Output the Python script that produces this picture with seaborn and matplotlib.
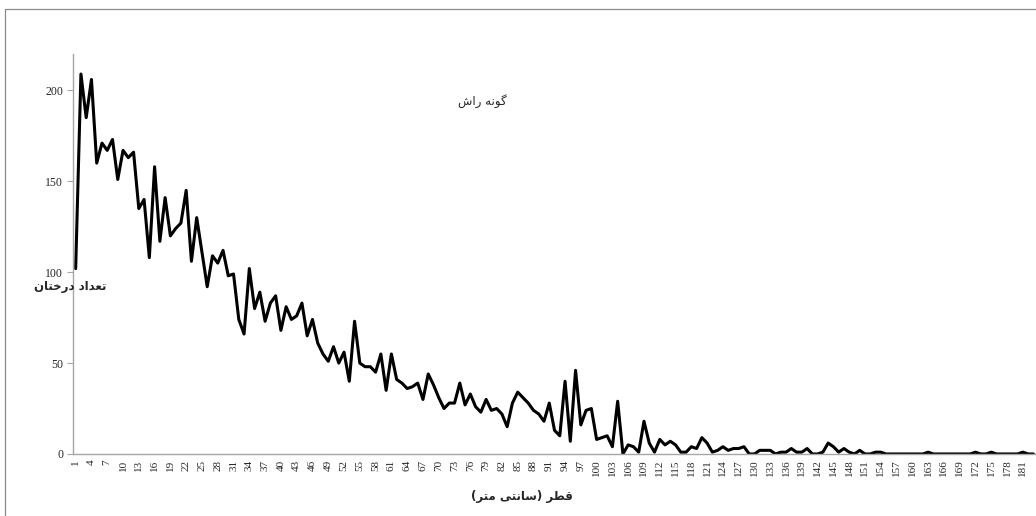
import numpy as np
import pandas as pd
import matplotlib
matplotlib.use('Agg')
import matplotlib.pyplot as plt
from matplotlib.lines import Line2D
import seaborn as sns

# DATA  (tree counts per diameter class, 1..183 cm)

diameters = list(range(1, 184))
tree_counts = [
    102, 209, 185, 206, 160, 171, 167, 173, 151, 167,
    163, 166, 135, 140, 108, 158, 117, 141, 120, 124,
    127, 145, 106, 130, 111, 92, 109, 105, 112, 98,
    99, 74, 66, 102, 80, 89, 73, 83, 87, 68,
    81, 74, 76, 83, 65, 74, 61, 55, 51, 59,
    50, 56, 40, 73, 50, 48, 48, 45, 55, 35,
    55, 41, 39, 36, 37, 39, 30, 44, 38, 31,
    25, 28, 28, 39, 27, 33, 26, 23, 30, 24,
    25, 22, 15, 28, 34, 31, 28, 24, 22, 18,
    28, 13, 10, 40, 7, 46, 16, 24, 25, 8,
    9, 10, 4, 29, 0, 5, 4, 1, 18, 6,
    1, 8, 5, 7, 5, 1, 1, 4, 3, 9,
    6, 1, 2, 4, 2, 3, 3, 4, 0, 0,
    2, 2, 2, 0, 1, 1, 3, 1, 1, 3,
    0, 0, 1, 6, 4, 1, 3, 1, 0, 2,
    0, 0, 1, 1, 0, 0, 0, 0, 0, 0,
    0, 0, 1, 0, 0, 0, 0, 0, 0, 0,
    0, 1, 0, 0, 1, 0, 0, 0, 0, 0,
    1, 0, 0,
]
y_ticks = [0, 50, 100, 150, 200]

# persian labels, written in visual (shaped, left-to-right) order
title_text = '\uFEB5\uFE8D\uFEAD \uFEEA\uFEE7\uFEEE\uFB94'                      # گونه راش
ylabel_text = '\uFEE5\uFE8E\uFE98\uFEA7\uFEAD\uFEA9 \uFEA9\uFE8D\uFEAA\uFECC\uFE97'  # تعداد درختان
xlabel_text = '(\uFEAE\uFE98\uFEE3 \uFBFD\uFE98\uFEE7\uFE8E\uFEB3) \uFEAE\uFEC4\uFED7'  # قطر (سانتی متر)

df = pd.DataFrame({'Diameter': diameters, 'Count': tree_counts})

# PLOT

sns.set_style('white')
plt.rcParams['font.family'] = ['DejaVu Sans']

fig = plt.figure(figsize=(10.36, 5.16), dpi=100)
ax = fig.add_axes([0.0705, 0.1202, 0.9295, 0.7751])

sns.lineplot(data=df, x='Diameter', y='Count', color='black', linewidth=2.2, ax=ax)

ax.set_xlim(0.5, len(diameters) + 0.5)
ax.set_ylim(0, 220)
ax.set_xticks(diameters[::3])
ax.set_xticklabels([str(d) for d in diameters[::3]], rotation=90,
                   family='Liberation Serif', fontsize=8)
ax.set_yticks(y_ticks)
ax.set_yticklabels([str(v) for v in y_ticks], family='Liberation Serif', fontsize=8.5)
ax.tick_params(axis='x', length=0, pad=4)
ax.tick_params(axis='y', length=4, width=0.8, color='#a6a6a6', pad=3, left=True)
ax.set_xlabel('')
ax.set_ylabel('')

for side in ['top', 'right']:
    ax.spines[side].set_visible(False)
for side in ['left', 'bottom']:
    ax.spines[side].set_color('#a6a6a6')
    ax.spines[side].set_linewidth(1.0)

fig.text(0.466, 0.804, title_text, ha='center', va='center', fontsize=8.5)
fig.text(0.068, 0.444, ylabel_text, ha='center', va='center', fontsize=8.5, fontweight='bold')
fig.text(0.504, 0.037, xlabel_text, ha='center', va='center', fontsize=8.5, fontweight='bold')

# chart-area frame (cropped at right and bottom)
fig.add_artist(Line2D([0.0048, 0.0048, 1.0], [0.0, 0.9826, 0.9826],
                      transform=fig.transFigure, color='#8c8c8c', linewidth=0.9))

fig.savefig('out.png', dpi=100)
